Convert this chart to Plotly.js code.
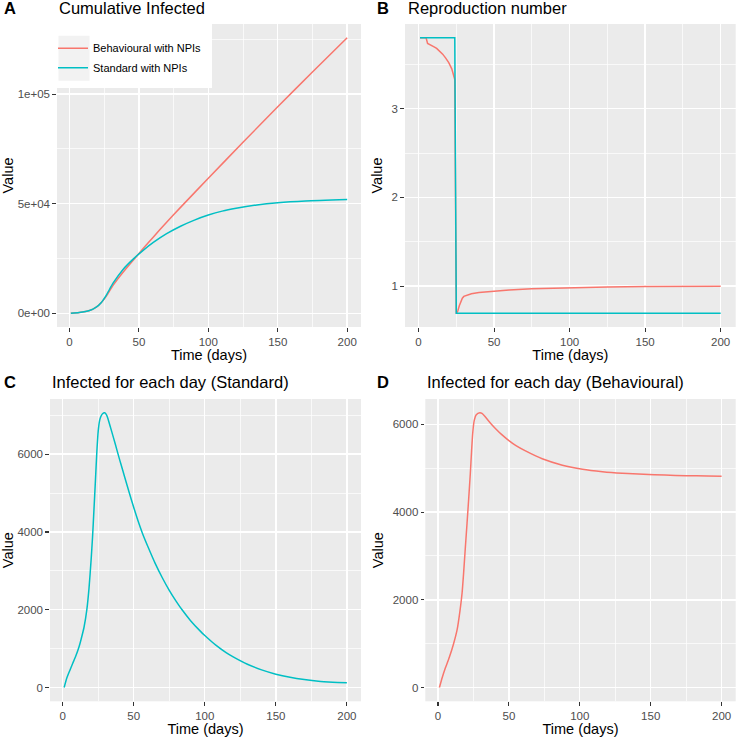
<!DOCTYPE html>
<html>
<head>
<meta charset="utf-8">
<script src="https://cdn.plot.ly/plotly-3.0.1.min.js"></script>
<style>html,body{margin:0;padding:0;background:#fff;}#chart{width:736px;height:737px;}</style>
</head>
<body>
<div id="chart"></div>
<script>
// ---- Data ----
const seriesNames = ['Behavioural with NPIs', 'Standard with NPIs'];

// Panel A: cumulative infected
const cumDaysBeh = [1, 7, 14.5, 19.3, 23, 26.6, 31.4, 38.6, 45.9, 53.1, 60, 70, 80, 100, 125, 150, 175, 200];
const cumValBeh  = [0, 310, 1230, 2780, 4940, 7800, 12700, 18700, 24200, 29500, 34500, 41500, 48300, 61600, 78000, 94200, 110100, 125700];
const cumDaysStd = [1, 7, 14.5, 19.3, 23, 26.6, 31.4, 38.6, 45.9, 53.1, 60.4, 70, 80, 90, 100, 110, 120, 135, 150, 170, 200];
const cumValStd  = [0, 310, 1230, 2780, 4940, 8300, 13700, 20000, 24700, 28700, 32300, 36300, 39700, 42500, 44800, 46600, 47900, 49400, 50400, 51200, 51850];

// Panel B: reproduction number
const rDaysBeh = [1, 4, 5, 6, 7, 8, 10, 12, 14, 16, 18, 20, 22, 23, 24, 25, 26, 27, 28, 29, 30, 32, 35, 40, 45, 50, 60, 75, 100, 125, 150, 175, 200];
const rValBeh  = [3.8, 3.8, 3.8, 3.735, 3.728, 3.72, 3.70, 3.68, 3.65, 3.615, 3.57, 3.52, 3.45, 3.40, 3.33, 0.69, 0.72, 0.78, 0.83, 0.865, 0.885, 0.90, 0.915, 0.928, 0.937, 0.944, 0.956, 0.97, 0.984, 0.992, 0.996, 0.998, 1.0];
const rDaysStd = [1, 24, 25, 200];
const rValStd  = [3.8, 3.8, 0.695, 0.695];

// Panel C: infected for each day (Standard)
const infDaysStd = [1, 3, 5, 7, 9, 11.5, 13, 15, 17, 18.5, 20, 21, 22, 23, 24, 25, 26, 27, 28, 29.5, 31, 32, 34.5, 37, 39.5, 41, 43.7, 47, 50, 53, 56.5, 60, 65, 70, 75, 80, 84, 90, 97, 100, 108, 115, 120, 130, 140, 150, 160, 170, 180, 190, 200];
const infValStd  = [0, 256, 440, 620, 790, 1050, 1250, 1550, 2010, 2550, 3290, 3870, 4580, 5300, 6050, 6600, 6870, 6980, 7040, 7065, 7000, 6890, 6580, 6260, 5930, 5740, 5400, 4990, 4630, 4290, 3930, 3620, 3200, 2830, 2500, 2210, 2000, 1720, 1445, 1340, 1085, 900, 790, 600, 455, 345, 265, 205, 160, 138, 125];

// Panel D: infected for each day (Behavioural)
const infDaysBeh = [1, 3, 5, 8, 11, 13.5, 15.5, 17, 18, 19.3, 20.5, 21.6, 22.8, 23.7, 24.5, 25.5, 27, 29.5, 31, 33, 35, 37.5, 41, 45, 50, 55, 61.7, 73.5, 87.7, 101.9, 116, 130, 145, 160, 175, 190, 200];
const infValBeh  = [0, 230, 430, 690, 1000, 1320, 1750, 2160, 2580, 3200, 3750, 4280, 4880, 5400, 5800, 6080, 6220, 6265, 6250, 6185, 6105, 6010, 5890, 5765, 5630, 5515, 5395, 5215, 5070, 4978, 4922, 4885, 4860, 4843, 4831, 4822, 4817];

// Axis ticks
const dayTicks = [0, 50, 100, 150, 200];
const dayMinor = [25, 75, 125, 175];
const cumTickVals = [0, 50000, 100000];
const cumTickText = ['0e+00', '5e+04', '1e+05'];
const cumMinor = [25000, 75000, 125000];
const rTickVals = [1, 2, 3];
const rMinor = [1.5, 2.5, 3.5];
const infTickVals = [0, 2000, 4000, 6000];
const infMinor = [1000, 3000, 5000, 7000];

const panelTitles = ['Cumulative Infected', 'Reproduction number', 'Infected for each day (Standard)', 'Infected for each day (Behavioural)'];
const panelTags = ['A', 'B', 'C', 'D'];

// ---- Styling ----
const RED = '#F8766D', TEAL = '#00BFC4';
const W = 736, H = 737;
const FONT = 'Liberation Sans, Arial, sans-serif';
const px = v => v / W;
const py = v => 1 - v / H;

const traces = [
  {x: cumDaysBeh, y: cumValBeh, xaxis: 'x', yaxis: 'y', name: seriesNames[0], mode: 'lines', line: {color: RED, width: 1.5, shape: 'spline', smoothing: 0.6}, showlegend: true, legendgroup: 'a'},
  {x: cumDaysStd, y: cumValStd, xaxis: 'x', yaxis: 'y', name: seriesNames[1], mode: 'lines', line: {color: TEAL, width: 1.5, shape: 'spline', smoothing: 0.6}, showlegend: true, legendgroup: 'b'},
  {x: rDaysBeh, y: rValBeh, xaxis: 'x2', yaxis: 'y2', name: seriesNames[0], mode: 'lines', line: {color: RED, width: 1.5}, showlegend: false},
  {x: rDaysStd, y: rValStd, xaxis: 'x2', yaxis: 'y2', name: seriesNames[1], mode: 'lines', line: {color: TEAL, width: 1.5}, showlegend: false},
  {x: infDaysStd, y: infValStd, xaxis: 'x3', yaxis: 'y3', name: seriesNames[1], mode: 'lines', line: {color: TEAL, width: 1.5, shape: 'spline', smoothing: 0.6}, showlegend: false},
  {x: infDaysBeh, y: infValBeh, xaxis: 'x4', yaxis: 'y4', name: seriesNames[0], mode: 'lines', line: {color: RED, width: 1.5, shape: 'spline', smoothing: 0.6}, showlegend: false}
];

function xAxis(domain, anchor) {
  return {
    domain: domain, anchor: anchor, range: [-8.95, 209.95],
    tickmode: 'array', tickvals: dayTicks, ticks: 'outside', ticklen: 3.7, tickwidth: 1.1, tickcolor: '#333333',
    tickfont: {family: FONT, size: 11.5, color: '#4D4D4D'},
    showgrid: true, gridcolor: '#FFFFFF', gridwidth: 1.4, zeroline: false, showline: false,
    minor: {tickvals: dayMinor, showgrid: true, gridcolor: '#FFFFFF', gridwidth: 0.7, ticks: ''},
    title: {text: 'Time (days)', font: {family: FONT, size: 14.5, color: '#000'}, standoff: 3},
    fixedrange: true
  };
}
function yAxis(domain, anchor, range, vals, text, minor) {
  const a = {
    domain: domain, anchor: anchor, range: range,
    tickmode: 'array', tickvals: vals, ticks: 'outside', ticklen: 3.7, tickwidth: 1.1, tickcolor: '#333333',
    tickfont: {family: FONT, size: 11.5, color: '#4D4D4D'},
    showgrid: true, gridcolor: '#FFFFFF', gridwidth: 1.4, zeroline: false, showline: false,
    minor: {tickvals: minor, showgrid: true, gridcolor: '#FFFFFF', gridwidth: 0.7, ticks: ''},
    title: {text: 'Value', font: {family: FONT, size: 14.5, color: '#000'}, standoff: 5},
    fixedrange: true
  };
  if (text) a.ticktext = text;
  return a;
}

const xA = [px(57), px(361)], xB = [px(405), 0.9996];
const xC = [px(50), px(361)], xD = [px(425.3), 0.9996];
const yTop = [py(327), py(24)], yBot = [py(701.3), py(399)];

const annotations = [];
const titlePos = [[57, 8], [406.3, 8], [50, 382], [425.3, 382]];
const tagPos = [[2, 8], [375, 8], [2, 382], [375, 382]];
for (let i = 0; i < 4; i++) {
  annotations.push({xref: 'paper', yref: 'paper', x: px(titlePos[i][0]), y: py(titlePos[i][1]), xanchor: 'left', yanchor: 'middle',
    text: panelTitles[i], showarrow: false, font: {family: FONT, size: 16.5, color: '#000'}});
  annotations.push({xref: 'paper', yref: 'paper', x: px(tagPos[i][0]), y: py(tagPos[i][1]), xanchor: 'left', yanchor: 'middle',
    text: '<b>' + panelTags[i] + '</b>', showarrow: false, font: {family: FONT, size: 16.5, color: '#000'}});
}

const layout = {
  width: W, height: H,
  margin: {l: 0, r: 0, t: 0, b: 0},
  paper_bgcolor: '#FFFFFF', plot_bgcolor: '#EBEBEB',
  font: {family: FONT},
  showlegend: true,
  legend: {x: px(53), y: py(33.7), xanchor: 'left', yanchor: 'top', bgcolor: 'rgba(0,0,0,0)', borderwidth: 0,
    font: {family: FONT, size: 11, color: '#000'}, traceorder: 'grouped', tracegroupgap: 0.6},
  xaxis: xAxis(xA, 'y'),
  yaxis: yAxis(yTop, 'x', [-6285, 131985], cumTickVals, cumTickText, cumMinor),
  xaxis2: xAxis(xB, 'y2'),
  yaxis2: yAxis(yTop, 'x2', [0.54, 3.955], rTickVals, null, rMinor),
  xaxis3: xAxis(xC, 'y3'),
  yaxis3: yAxis(yBot, 'x3', [-353, 7418], infTickVals, null, infMinor),
  xaxis4: xAxis(xD, 'y4'),
  yaxis4: yAxis(yBot, 'x4', [-313, 6578], infTickVals, null, infMinor),
  shapes: [
    {type: 'rect', xref: 'paper', yref: 'paper', x0: px(57), x1: px(212), y0: py(88), y1: py(24), fillcolor: '#FFFFFF', line: {width: 0}, layer: 'above'},
    {type: 'rect', xref: 'paper', yref: 'paper', x0: px(58.5), x1: px(89.5), y0: py(80.7), y1: py(35.7), fillcolor: '#F2F2F2', line: {width: 0}, layer: 'above'}
  ],
  annotations: annotations
};

Plotly.newPlot('chart', traces, layout, {staticPlot: true, displayModeBar: false});
</script>
</body>
</html>
